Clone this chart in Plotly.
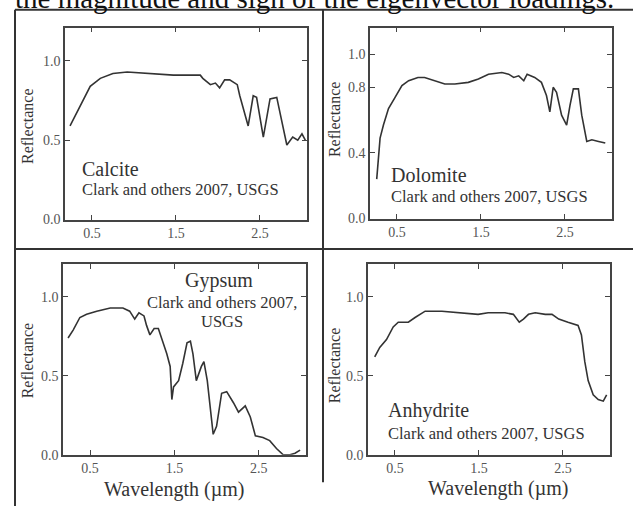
import plotly.graph_objects as go

W, H = 633, 514

# ---------------- data ----------------
calcite_x = [0.24, 0.36, 0.48, 0.60, 0.75, 0.92, 1.19, 1.47, 1.70, 1.79, 1.82, 1.91, 1.97, 2.02,
             2.08, 2.14, 2.23, 2.26, 2.36, 2.42, 2.46, 2.54, 2.62, 2.70, 2.82, 2.89, 2.95, 3.00, 3.04]
calcite_y = [0.59, 0.72, 0.84, 0.89, 0.92, 0.93, 0.92, 0.91, 0.91, 0.91, 0.89, 0.85, 0.86, 0.83,
             0.88, 0.88, 0.85, 0.78, 0.59, 0.78, 0.77, 0.52, 0.76, 0.77, 0.47, 0.52, 0.50, 0.54, 0.50]

dolomite_x = [0.26, 0.28, 0.30, 0.34, 0.40, 0.48, 0.56, 0.64, 0.75, 0.83, 0.95, 1.07, 1.19, 1.35,
              1.47, 1.59, 1.75, 1.83, 1.89, 1.95, 2.01, 2.05, 2.14, 2.22, 2.28, 2.32, 2.36, 2.40,
              2.46, 2.52, 2.56, 2.60, 2.66, 2.70, 2.76, 2.82, 2.90, 2.98]
dolomite_y = [0.24, 0.35, 0.49, 0.57, 0.67, 0.74, 0.81, 0.84, 0.86, 0.86, 0.84, 0.82, 0.82, 0.83,
              0.85, 0.88, 0.89, 0.88, 0.86, 0.87, 0.84, 0.88, 0.86, 0.83, 0.75, 0.65, 0.80, 0.77,
              0.63, 0.57, 0.69, 0.79, 0.79, 0.63, 0.47, 0.48, 0.47, 0.46]

gypsum_x = [0.24, 0.30, 0.38, 0.46, 0.58, 0.74, 0.89, 0.97, 1.03, 1.08, 1.14, 1.17, 1.21, 1.26,
            1.31, 1.36, 1.41, 1.45, 1.47, 1.49, 1.55, 1.60, 1.65, 1.69, 1.72, 1.76, 1.82, 1.85,
            1.89, 1.96, 2.00, 2.06, 2.12, 2.20, 2.26, 2.34, 2.40, 2.46, 2.55, 2.63, 2.71, 2.79,
            2.87, 2.93, 2.99]
gypsum_y = [0.74, 0.79, 0.87, 0.89, 0.91, 0.93, 0.93, 0.91, 0.86, 0.90, 0.88, 0.82, 0.76, 0.80,
            0.80, 0.72, 0.64, 0.56, 0.35, 0.43, 0.47, 0.58, 0.71, 0.72, 0.64, 0.47, 0.56, 0.59,
            0.47, 0.13, 0.18, 0.39, 0.40, 0.33, 0.27, 0.31, 0.24, 0.12, 0.11, 0.09, 0.04, 0.00,
            0.00, 0.01, 0.03]

anhydrite_x = [0.26, 0.32, 0.40, 0.48, 0.54, 0.66, 0.74, 0.86, 1.06, 1.29, 1.49, 1.61, 1.81, 1.91,
               1.98, 2.03, 2.09, 2.17, 2.29, 2.37, 2.45, 2.56, 2.68, 2.72, 2.76, 2.80, 2.86, 2.92,
               2.98, 3.02]
anhydrite_y = [0.62, 0.68, 0.73, 0.81, 0.84, 0.84, 0.87, 0.91, 0.91, 0.90, 0.89, 0.90, 0.90, 0.89,
               0.84, 0.86, 0.89, 0.90, 0.89, 0.89, 0.86, 0.84, 0.82, 0.76, 0.59, 0.47, 0.38, 0.35,
               0.34, 0.38]

x_tickvals = [0.5, 1.5, 2.5]
x_ticktext = ["0.5", "1.5", "2.5"]
y_tickvals_std = [0.0, 0.5, 1.0]
y_ticktext_std = ["0.0", "0.5", "1.0"]
y_tickvals_dol = [0.0, 0.4, 0.8, 1.0]
y_ticktext_dol = ["0.0", "0.4", "0.8", "1.0"]

x_range = [0.18, 3.06]

SERIF = "Liberation Serif, Times New Roman, serif"
INK = "#333333"


def px_x(p):
    return p / W


def px_y(p):
    return 1 - p / H


# panel pixel boxes: left, right, top, bottom
panels = [
    (calcite_x, calcite_y, (65, 307, 28, 223), 1.21, y_tickvals_std, y_ticktext_std),
    (dolomite_x, dolomite_y, (370, 612, 28, 222), 1.164, y_tickvals_dol, y_ticktext_dol),
    (gypsum_x, gypsum_y, (63, 306, 268, 462), 1.21, y_tickvals_std, y_ticktext_std),
    (anhydrite_x, anhydrite_y, (368, 610, 268, 462), 1.21, y_tickvals_std, y_ticktext_std),
]

fig = go.Figure()
layout_axes = {}
for i, (xs, ys, (l, r, t, b), ytop, ytv, ytt) in enumerate(panels):
    n = i + 1
    xa = "x" if n == 1 else f"x{n}"
    ya = "y" if n == 1 else f"y{n}"
    m = n + 4  # minor-tick overlay axes
    fig.add_trace(go.Scatter(x=xs, y=ys, xaxis=xa, yaxis=ya, mode="lines",
                             line=dict(color=INK, width=1.6), showlegend=False,
                             hoverinfo="skip"))
    xkey = "xaxis" if n == 1 else f"xaxis{n}"
    ykey = "yaxis" if n == 1 else f"yaxis{n}"
    common = dict(showline=True, linecolor="#444", linewidth=1.5, mirror="ticks",
                  ticks="inside", ticklen=5, tickcolor="#444", tickwidth=1,
                  showgrid=False, zeroline=False,
                  tickfont=dict(family=SERIF, size=14, color="#555"))
    xdom = [px_x(l), px_x(r)]
    ydom = [px_y(b), px_y(t)]
    layout_axes[xkey] = dict(common, domain=xdom, range=x_range,
                             tickmode="array", tickvals=x_tickvals, ticktext=x_ticktext,
                             anchor=ya, ticklabelstandoff=0)
    layout_axes[ykey] = dict(common, domain=ydom, range=[0, ytop],
                             tickmode="array", tickvals=ytv, ticktext=ytt, anchor=xa,
                             ticklabelstandoff=0)
    minor_common = dict(showline=True, linecolor="#444", linewidth=1.5,
                        ticks="inside", ticklen=3, tickcolor="#555",
                        tickwidth=1, mirror="ticks", showgrid=False, zeroline=False,
                        showticklabels=False, tickmode="linear", tick0=0, dtick=0.1)
    layout_axes[f"xaxis{m}"] = dict(minor_common, domain=xdom, range=x_range,
                                    overlaying=xa, anchor=ya)
    layout_axes[f"yaxis{m}"] = dict(minor_common, domain=ydom, range=[0, ytop],
                                    overlaying=ya, anchor=xa)

fig.update_layout(**layout_axes)

annotations = []


def ann(text, x, y, size, xanchor="center", yanchor="middle", angle=0, color=INK):
    annotations.append(dict(text=text, x=px_x(x), y=px_y(y), xref="paper", yref="paper",
                            showarrow=False, xanchor=xanchor, yanchor=yanchor,
                            textangle=angle,
                            font=dict(family=SERIF, size=size, color=color)))


ann("the magnitude and sign of the eigenvector loadings.", 13, 16, 29,
    xanchor="left", yanchor="bottom", color="#111")

ann("Calcite", 80, 172, 20, xanchor="left")
ann("Clark and others 2007, USGS", 80, 193, 16.5, xanchor="left")
ann("Dolomite", 389, 178, 20, xanchor="left")
ann("Clark and others 2007, USGS", 389, 200, 16.5, xanchor="left")
ann("Gypsum", 219, 285, 20)
ann("Clark and others 2007,", 222, 307, 16.5)
ann("USGS", 222, 327, 16.5)
ann("Anhydrite", 386, 417, 20, xanchor="left")
ann("Clark and others 2007, USGS", 386, 440, 16.5, xanchor="left")

for xx, yy in [(27, 128), (334, 121), (27, 366), (334, 371)]:
    ann("Reflectance", xx, yy, 16, angle=-90)

ann("Wavelength (µm)", 174, 497, 20)
ann("Wavelength (µm)", 498, 496, 20)

shapes = []
frame = dict(color="#333333", width=2)
for x0, y0, x1, y1 in [(15, 10, 633, 10), (15, 10, 15, 514), (15, 253, 633, 253),
                       (323, 10, 323, 490)]:
    shapes.append(dict(type="line", xref="paper", yref="paper",
                       x0=px_x(x0), y0=px_y(y0), x1=px_x(x1), y1=px_y(y1), line=frame))

fig.update_layout(width=W, height=H, margin=dict(l=0, r=0, t=0, b=0),
                  paper_bgcolor="white", plot_bgcolor="white",
                  annotations=annotations, shapes=shapes, showlegend=False)

fig.write_html("out.html", config={"displayModeBar": False},
               post_script="document.body.style.margin='0px';"
                           "document.documentElement.style.overflow='hidden';")
